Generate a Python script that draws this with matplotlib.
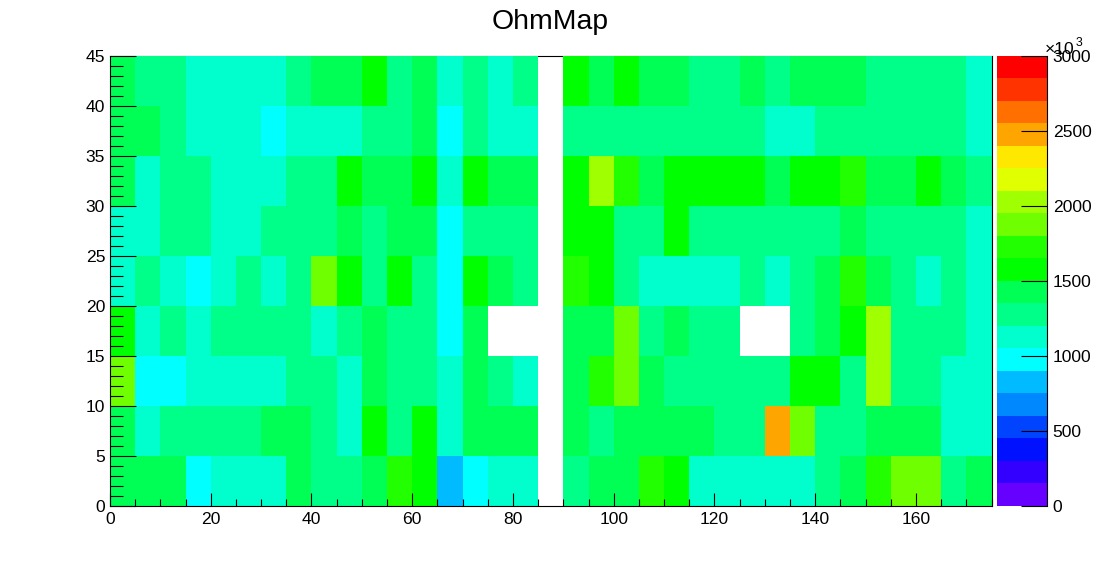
import numpy as np
import matplotlib
matplotlib.use("Agg")
import matplotlib.pyplot as plt
from matplotlib.colors import ListedColormap, BoundaryNorm
from matplotlib.ticker import MultipleLocator

N = np.nan
# Ohm values per 5x5 bin (in units of 10^3), one list per y row, left to right
row_00 = [1425,1425,1425,975,1125,1125,1125,1425,1275,1275,1425,1725,1575,825,975,1125,1125,N,1275,1425,1425,1725,1575,1125,1125,1125,1125,1125,1275,1425,1725,1875,1875,1275,1425]
row_05 = [1425,1125,1275,1275,1275,1275,1425,1425,1275,1125,1575,1275,1575,1125,1425,1425,1425,N,1425,1275,1425,1425,1425,1425,1275,1275,2475,1875,1275,1275,1425,1425,1425,1125,1125]
row_10 = [1875,975,975,1125,1125,1125,1125,1275,1275,1125,1425,1275,1275,1125,1425,1275,1125,N,1425,1725,1875,1425,1275,1275,1275,1275,1275,1575,1575,1275,2025,1275,1275,1125,1125]
row_15 = [1575,1125,1275,1125,1275,1275,1275,1275,1125,1275,1425,1275,1275,975,1425,N,N,N,1425,1425,1875,1275,1425,1275,1275,N,N,1275,1425,1575,2025,1275,1275,1275,1125]
row_20 = [1125,1275,1125,975,1125,1275,1125,1275,1875,1575,1275,1575,1275,975,1575,1425,1275,N,1725,1575,1275,1125,1125,1125,1125,1275,1125,1275,1425,1725,1425,1275,1125,1275,1125]
row_25 = [1125,1125,1275,1275,1125,1125,1275,1275,1275,1425,1275,1425,1425,975,1275,1275,1275,N,1575,1575,1275,1275,1575,1275,1275,1275,1275,1275,1275,1425,1275,1275,1275,1275,1125]
row_30 = [1425,1125,1275,1275,1125,1125,1125,1275,1275,1575,1425,1425,1575,1125,1575,1425,1425,N,1575,2025,1725,1425,1575,1575,1575,1575,1425,1575,1575,1725,1425,1425,1575,1425,1275]
row_35 = [1425,1425,1275,1125,1125,1125,975,1125,1125,1125,1275,1275,1425,975,1275,1125,1125,N,1275,1275,1275,1275,1275,1275,1275,1275,1125,1125,1275,1275,1275,1275,1275,1275,1125]
row_40 = [1425,1275,1275,1125,1125,1125,1125,1275,1425,1425,1575,1275,1425,1125,1275,1125,1275,N,1575,1425,1575,1425,1425,1275,1275,1425,1275,1425,1425,1425,1275,1275,1275,1275,1125]
values = np.array([row_00,row_05,row_10,row_15,row_20,row_25,row_30,row_35,row_40])

x_edges = np.arange(0, 176, 5)
y_edges = np.arange(0, 46, 5)
z_levels = np.arange(0, 3001, 150)
palette = ["#6600ff","#3300ff","#0011ff","#0044ff","#0088ff","#00bbff","#00ffff","#00ffcc","#00ff88","#00ff55",
           "#00ff00","#22ff00","#70ff00","#a0ff00","#e0ff00","#ffe800","#ffa500","#ff7000","#ff3300","#ff0000"]
x_ticks = [0,20,40,60,80,100,120,140,160]
y_ticks = [0,5,10,15,20,25,30,35,40,45]
z_ticks = [0,500,1000,1500,2000,2500,3000]

W, H = 1102, 562
plt.rcParams["font.family"] = ["Liberation Sans", "DejaVu Sans"]
fig = plt.figure(figsize=(W/100, H/100), dpi=100)
cmap = ListedColormap(palette)
cmap.set_bad((1, 1, 1, 0))
norm = BoundaryNorm(z_levels, cmap.N)

def box(l, r, t, b):
    return [l/W, 1-b/H, (r-l)/W, (b-t)/H]

lw = 0.8
fs = 12.6
ax = fig.add_axes(box(110, 991.5, 56, 506))
ax.pcolormesh(x_edges, y_edges, np.ma.masked_invalid(values), cmap=cmap, norm=norm,
              shading="flat", antialiased=False, linewidth=0, zorder=1)
ax.set_xlim(0, 175)
ax.set_ylim(0, 45)
ax.spines["top"].set_zorder(0)
for s in ax.spines.values():
    s.set_linewidth(lw)
ax.set_xticks(x_ticks)
ax.set_yticks(y_ticks)
ax.xaxis.set_minor_locator(MultipleLocator(5))
ax.yaxis.set_minor_locator(MultipleLocator(1))
ax.tick_params(axis="x", which="major", direction="in", length=9.4, width=lw, labelsize=fs, pad=4)
ax.tick_params(axis="x", which="minor", direction="in", length=4.7, width=lw)
ax.tick_params(axis="y", which="major", direction="in", length=18.8, width=lw, labelsize=fs, pad=3.5)
ax.tick_params(axis="y", which="minor", direction="in", length=9.4, width=lw)

cax = fig.add_axes(box(997, 1046.5, 56, 505.5))
cax.pcolormesh([0, 1], z_levels, np.array(z_levels[:-1]).reshape(-1, 1) + 75, cmap=cmap, norm=norm,
               shading="flat", antialiased=False, linewidth=0)
cax.set_xlim(0, 1)
cax.set_ylim(0, 3000)
cax.set_xticks([])
for side in ("top", "left", "bottom"):
    cax.spines[side].set_visible(False)
cax.spines["right"].set_linewidth(lw)
cax.yaxis.tick_right()
cax.set_yticks(z_ticks)
cax.tick_params(axis="y", which="major", direction="in", length=18.8, width=lw, labelsize=fs, pad=4.5)
for t in cax.yaxis.get_major_ticks():
    t.tick2line.set_clip_on(False)

fig.text(550.5/W, 1-29/H, "OhmMap", ha="center", va="baseline", fontsize=20.4)
fig.text(1045/W, 1-54/H, "×10", ha="left", va="baseline", fontsize=12.6)
fig.text(1075.5/W, 1-46/H, "3", ha="left", va="baseline", fontsize=8.8)

fig.savefig("out.png", dpi=100)
